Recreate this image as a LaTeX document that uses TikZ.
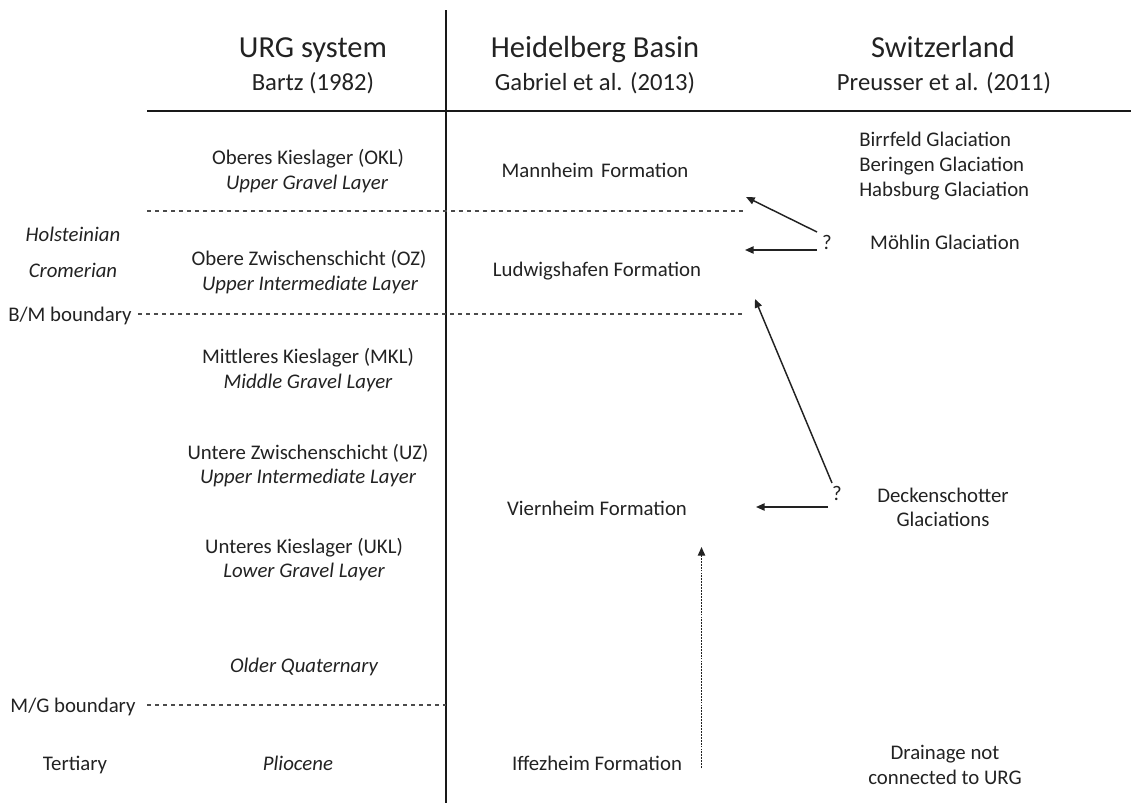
\documentclass[tikz,border=0pt]{standalone}
\usepackage{fontspec}
\setmainfont{Carlito}
\usetikzlibrary{arrows.meta}
\definecolor{txt}{RGB}{34,34,34}
\definecolor{dsh}{RGB}{75,75,75}
\begin{document}
\begin{tikzpicture}[x=0.75pt,y=-0.75pt,
  lbl/.style={anchor=base,inner sep=0pt,text=txt,font=\fontsize{15.6}{18}\selectfont},
  ilbl/.style={lbl,font=\fontsize{15.6}{18}\selectfont\itshape},
  wlbl/.style={lbl,anchor=base west},
  hd/.style={anchor=base,inner sep=0pt,text=txt,font=\fontsize{22.9}{27}\selectfont},
  sub/.style={anchor=base,inner sep=0pt,text=txt,font=\fontsize{18.5}{22}\selectfont},
  rule/.style={line width=1.5pt,draw=black!90},
  bound/.style={draw=dsh,line width=0.8pt,dash pattern=on 3pt off 3pt},
  arr/.style={draw=txt,line width=1.1pt,-{Triangle[length=6.5pt,width=5.5pt]}},
  darr/.style={arr,line width=1pt,dash pattern=on 1.4pt off 0.8pt}]
\useasboundingbox (0,0) rectangle (1131,803);

% frame lines
\coordinate (vtop) at (446,10);
\coordinate (vbot) at (446,803);
\coordinate (hl) at (147,111);
\coordinate (hr) at (1131,111);
\draw[rule] (vtop) -- (vbot);
\draw[rule] (hl) -- (hr);

% boundaries
\coordinate (b1l) at (147,211); \coordinate (b1r) at (743,211);
\coordinate (b2l) at (138,314); \coordinate (b2r) at (743,314);
\coordinate (b3l) at (147,705); \coordinate (b3r) at (446,705);
\draw[bound] (b1l) -- (b1r);
\draw[bound] (b2l) -- (b2r);
\draw[bound] (b3l) -- (b3r);

% headers
\node[hd] (h1) at (313,57) {URG system};
\node[sub] (h1s) at (313,90) {Bartz (1982)};
\node[hd] (h2) at (595,57) {Heidelberg Basin};
\node[sub] (h2s) at (595,90) {Gabriel et al. (2013)};
\node[hd] (h3) at (943,57) {Switzerland};
\node[sub] (h3s) at (944,90) {Preusser et al. (2011)};

% left column
\node[ilbl] (hol) at (73,241) {Holsteinian};
\node[ilbl] (cro) at (73,277) {Cromerian};
\node[lbl] (bm) at (70,321) {B/M boundary};
\node[lbl] (mg) at (73,712) {M/G boundary};
\node[lbl] (ter) at (75,770) {Tertiary};

% URG column
\node[lbl] (okl) at (308,164) {Oberes Kieslager (OKL)};
\node[ilbl] (okle) at (307,189) {Upper Gravel Layer};
\node[lbl] (oz) at (309,265) {Obere Zwischenschicht (OZ)};
\node[ilbl] (oze) at (310,290) {Upper Intermediate Layer};
\node[lbl] (mkl) at (308,363) {Mittleres Kieslager (MKL)};
\node[ilbl] (mkle) at (308,388) {Middle Gravel Layer};
\node[lbl] (uz) at (308,459) {Untere Zwischenschicht (UZ)};
\node[ilbl] (uze) at (308,483) {Upper Intermediate Layer};
\node[lbl] (ukl) at (304,553) {Unteres Kieslager (UKL)};
\node[ilbl] (ukle) at (304,577) {Lower Gravel Layer};
\node[ilbl] (oq) at (304,672) {Older Quaternary};
\node[ilbl] (pli) at (298,770) {Pliocene};

% Heidelberg column
\node[lbl] (man) at (595,177) {Mannheim\hspace{0.12em} Formation};
\node[lbl] (lud) at (597,276) {Ludwigshafen Formation};
\node[lbl] (vie) at (597,515) {Viernheim Formation};
\node[lbl] (iff) at (597,770) {Iffezheim Formation};

% Switzerland column
\node[wlbl] (bir) at (859,146) {Birrfeld Glaciation};
\node[wlbl] (ber) at (859,171) {Beringen Glaciation};
\node[wlbl] (hab) at (859,196) {Habsburg Glaciation};
\node[lbl] (q1) at (827,249) {?};
\node[lbl] (moe) at (945,249) {Möhlin Glaciation};
\node[lbl] (q2) at (837,500) {?};
\node[lbl] (dec) at (943,502) {Deckenschotter};
\node[lbl] (gla) at (943,526) {Glaciations};
\node[lbl] (dr1) at (945,759) {Drainage not};
\node[lbl] (dr2) at (945,784) {connected to URG};

% arrows
\coordinate (a1s) at (817,232); \coordinate (a1e) at (746,197);
\coordinate (a2s) at (817,250); \coordinate (a2e) at (745,250);
\coordinate (a3s) at (832,483); \coordinate (a3e) at (755,299);
\coordinate (a4s) at (828,507); \coordinate (a4e) at (756,507);
\coordinate (a5s) at (701.5,768); \coordinate (a5e) at (701.5,547);
\draw[arr] (a1s) -- (a1e);
\draw[arr] (a2s) -- (a2e);
\draw[arr] (a3s) -- (a3e);
\draw[arr] (a4s) -- (a4e);
\draw[darr] (a5s) -- (a5e);
\end{tikzpicture}
\end{document}
